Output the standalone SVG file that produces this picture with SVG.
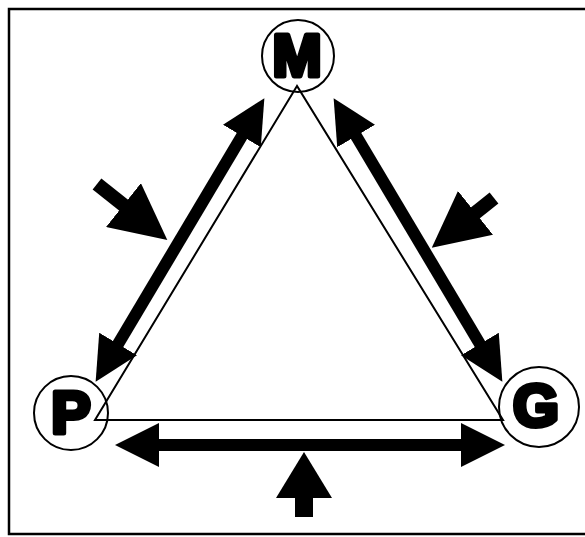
<svg xmlns="http://www.w3.org/2000/svg" width="585" height="537" viewBox="0 0 585 537">
<style>
.frame{fill:none;stroke:#000;stroke-width:2.5}
.tri{fill:none;stroke:#000;stroke-width:2}
.ring{fill:none;stroke:#000;stroke-width:2}
.lbl{font-family:"Liberation Sans",Arial,sans-serif;font-weight:bold;font-size:59px;fill:#000;stroke:#000;stroke-width:5;stroke-linejoin:round;text-anchor:middle;dominant-baseline:central}
.dbl{stroke:#000;stroke-width:12;marker-start:url(#hd);marker-end:url(#hd)}
.one{stroke:#000}
</style>
<defs>
<marker id="hd" markerUnits="userSpaceOnUse" markerWidth="44" markerHeight="44" refX="12" refY="22" orient="auto-start-reverse"><path d="M0,0 L44,22 L0,44 z" fill="#000"/></marker>
<marker id="hb" markerUnits="userSpaceOnUse" markerWidth="56" markerHeight="56" refX="16" refY="28" orient="auto"><path d="M0,0 L56,28 L0,56 z" fill="#000"/></marker>
<marker id="hu" markerUnits="userSpaceOnUse" markerWidth="46" markerHeight="56" refX="12" refY="28" orient="auto"><path d="M0,0 L46,28 L0,56 z" fill="#000"/></marker>
</defs>
<path class="frame" d="M590,9 H9 V534 H590"/>
<g id="connectors">
<polygon class="tri" points="297,86 95,420 503,420"/>
<line class="dbl" x1="248" y1="125.7" x2="112" y2="354.3"/>
<line class="dbl" x1="350" y1="125.7" x2="486" y2="354.3"/>
<line class="dbl" x1="147" y1="445" x2="473" y2="445"/>
<line class="one" style="stroke-width:14;marker-end:url(#hb)" x1="97" y1="184" x2="136" y2="215"/>
<line class="one" style="stroke-width:14;marker-end:url(#hb)" x1="494" y1="198" x2="463" y2="222.8"/>
<line class="one" style="stroke-width:18;marker-end:url(#hu)" x1="304" y1="517" x2="304" y2="486"/>
</g>
<g id="node-M"><circle class="ring" cx="298" cy="56" r="36"/><text class="lbl" x="297" y="56">M</text></g>
<g id="node-P"><circle class="ring" cx="71" cy="413" r="37"/><text class="lbl" x="71" y="413">P</text></g>
<g id="node-G"><circle class="ring" cx="539" cy="407" r="40"/><text class="lbl" x="536" y="406">G</text></g>
</svg>
